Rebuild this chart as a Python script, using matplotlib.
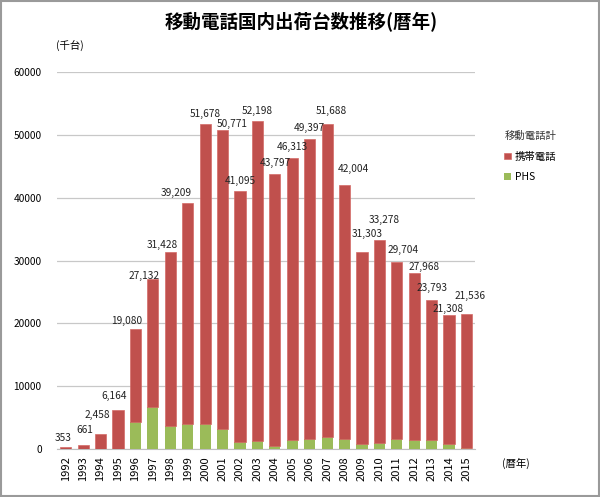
import numpy as np
import matplotlib.pyplot as plt
from matplotlib.patches import Rectangle

plt.rcParams['font.family'] = ['Noto Sans CJK JP', 'DejaVu Sans']

years = [str(y) for y in range(1992, 2016)]
# totals (thousand units), shown as labels above bars
totals = [353, 661, 2458, 6164, 19080, 27132, 31428, 39209, 51678, 50771, 41095, 52198,
          43797, 46313, 49397, 51688, 42004, 31303, 33278, 29704, 27968, 23793, 21308, 21536]
# PHS part
phs = [0, 0, 0, 0, 4360, 6760, 3720, 4000, 3930, 3200, 1170, 1330,
       530, 1380, 1530, 1920, 1530, 800, 1000, 1650, 1380, 1490, 850, 200]
keitai = [t - p for t, p in zip(totals, phs)]

# label placement (hand-moved in the original): x shift in bar slots, y centre in data units
label_dx = [-0.16, 0.07, -0.2, -0.24, -0.49, -0.48, -0.44, -0.64, 0.0, 0.58, 0.0, 0.0,
            0.0, 0.0, 0.0, 0.23, 0.48, 0.28, 0.28, 0.36, 0.58, 0.0, -0.06, 0.22]
label_y = [1750, 3100, 5400, 8500, 20400, 27500, 32400, 40800, 53300, 51700, 42700, 53800,
           45450, 48100, 51100, 53800, 44600, 34200, 36500, 31600, 29000, 25600, 22300, 24350]

red = '#C0504D'
green = '#9BBB59'

fig = plt.figure(figsize=(6, 4.97), dpi=100)
ax = fig.add_axes([0.095, 0.0966, 0.697, 0.7584])

x = np.arange(len(years))
w = 0.64
ax.bar(x, phs, w, color=green, label='PHS', zorder=3)
ax.bar(x, keitai, w, bottom=phs, color=red, edgecolor='#D46A67', linewidth=0.5,
       label='携帯電話', zorder=3)

for i, t in enumerate(totals):
    ax.text(x[i] + label_dx[i], label_y[i], '{:,}'.format(t), ha='center', va='center',
            fontsize=7.3, color='#222222', zorder=4)

ax.set_xlim(-0.5, len(years) - 0.5)
ax.set_ylim(0, 60000)
ax.set_yticks(range(0, 60001, 10000))
ax.set_yticklabels([str(v) for v in range(0, 60001, 10000)], fontsize=7.3)
ax.set_xticks(x)
ax.set_xticklabels(years, rotation=90, fontsize=8)
ax.tick_params(axis='both', length=0)
ax.tick_params(axis='y', pad=11)
ax.tick_params(axis='x', pad=5)
ax.grid(axis='y', color='#C8C8C8', linewidth=0.9, zorder=0)
for s in ['top', 'right', 'left']:
    ax.spines[s].set_visible(False)
ax.spines['bottom'].set_color('#BFBFBF')

fig.text(0.502, 0.955, '移動電話国内出荷台数推移(暦年)', ha='center', va='center',
         fontsize=13.3, fontweight='bold')
fig.text(0.117, 0.906, '(千台)', ha='center', va='center', fontsize=7.5)
fig.text(0.86, 0.068, '(暦年)', ha='center', va='center', fontsize=7.5)

handles, labels = ax.get_legend_handles_labels()
leg = fig.legend(handles[::-1], labels[::-1], title='移動電話計', loc='upper left',
                 bbox_to_anchor=(0.825, 0.755), frameon=False, fontsize=7.5,
                 title_fontsize=7.5, handlelength=0.6, handleheight=0.6,
                 handletextpad=0.4, labelspacing=1.0)
leg.get_title().set_color('#333333')

fig.patches.append(Rectangle((0.002, 0.002), 0.996, 0.996, transform=fig.transFigure,
                             fill=False, edgecolor='#9A9A9A', linewidth=1.5))

fig.savefig('out.png', dpi=100)
